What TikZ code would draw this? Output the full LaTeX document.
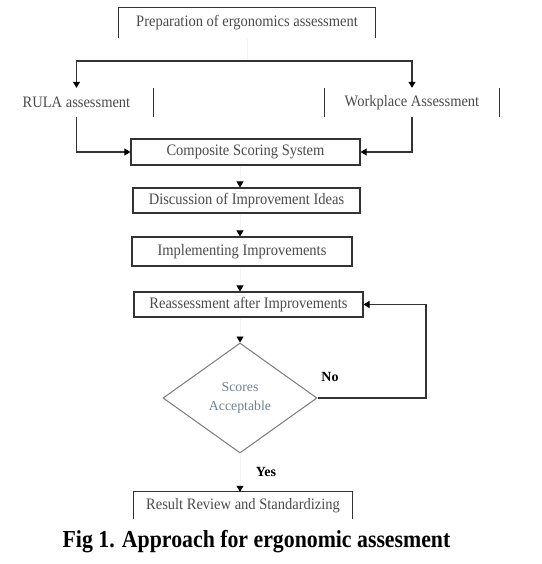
\documentclass[tikz,border=0pt]{standalone}
\usepackage{fontspec}
\setmainfont{Liberation Serif}
\usetikzlibrary{arrows.meta,shapes.geometric}
\definecolor{boxline}{HTML}{333333}
\definecolor{boxtext}{HTML}{4A4A4A}
\definecolor{dtext}{HTML}{6E8290}
\definecolor{dline}{HTML}{7A7A7A}
\definecolor{faint}{HTML}{F4F4F4}
\begin{document}
\begin{tikzpicture}[x=1pt,y=-1pt,
  every node/.style={font=\fontsize{14.5}{17}\selectfont, text=boxtext, inner sep=0pt},
  box/.style={draw=boxline, line width=1.1pt, rectangle},
  sideline/.style={draw=boxline, line width=1.1pt},
  tipstyle/.style={-{Triangle[width=7pt,length=6pt,color=black]}},
  link/.style={tipstyle, draw=boxline, line width=1.1pt},
  ghost/.style={tipstyle, draw=faint, line width=0.8pt},
  lab/.style={font=\bfseries\fontsize{14}{16}\selectfont, text=black}]
\useasboundingbox (0,0) rectangle (541,564);

\node[minimum width=256pt, minimum height=30pt] (prep) at (247,23) {\scalebox{1}[1.1]{Preparation of ergonomics assessment}};
\draw[sideline] (prep.south west) |- (prep.north east) -- (prep.south east);

\node[minimum width=153pt, minimum height=29pt] (rula) at (76.5,102.5) {\scalebox{1}[1.1]{RULA assessment}};
\draw[sideline] (rula.north east) -- (rula.south east);

\node[minimum width=174pt, minimum height=29pt] (work) at (412,102.5) {\scalebox{1}[1.1]{Workplace Assessment}};
\draw[sideline] (work.north west) -- (work.south west);
\draw[sideline] (work.north east) -- (work.south east);

\node[box, minimum width=229pt, minimum height=26pt] (comp) at (245.5,152) {\scalebox{1}[1.1]{Composite Scoring System}};
\node[box, minimum width=227pt, minimum height=25pt] (disc) at (246.5,200.5) {\scalebox{1}[1.1]{Discussion of Improvement Ideas}};
\node[box, minimum width=220pt, minimum height=29pt] (impl) at (242,251.5) {\scalebox{1}[1.1]{Implementing Improvements}};
\node[box, minimum width=229pt, minimum height=25pt] (reas) at (248.5,304.5) {\scalebox{1}[1.1]{Reassessment after Improvements}};

\node[diamond, draw=dline, line width=1pt, minimum width=154pt, minimum height=110pt,
      text=dtext, align=center, font=\fontsize{13.8}{19}\selectfont] (dec) at (240,398) {Scores\\Acceptable};

\node[minimum width=218pt, minimum height=27pt] (res) at (243,505.5) {\scalebox{1}[1.1]{Result Review and Standardizing}};
\draw[sideline] (res.south west) |- (res.north east) -- (res.south east);

\node[lab] (no) at (330,377) {No};
\node[lab] (yes) at (266,472) {Yes};

\node[anchor=base, text=black, font=\bfseries\fontsize{21.8}{24}\selectfont] (cap) at (256.5,547)
  {\scalebox{1}[1.12]{Fig 1. Approach for ergonomic assesment}};

\coordinate (split) at (247,61);
\coordinate (col) at (240,0);
\coordinate (loop) at (426,398);

\draw[draw=faint, line width=0.8pt] (prep.south) -- (split);
\draw[link] (split) -| (rula.north);
\draw[link] (split) -| (work.north);
\draw[link] (rula.south) |- (comp.west);
\draw[link] (work.south) |- (comp.east);

\draw[ghost] (comp.south -| col) -- (disc.north -| col);
\draw[ghost] (disc.south -| col) -- (impl.north -| col);
\draw[ghost] (impl.south -| col) -- (reas.north -| col);
\draw[ghost] (reas.south -| col) -- (dec.north);
\draw[ghost] (dec.south) -- (res.north -| col);

\draw[link] (dec.east) -- (loop) |- (reas.east);
\end{tikzpicture}
\end{document}
